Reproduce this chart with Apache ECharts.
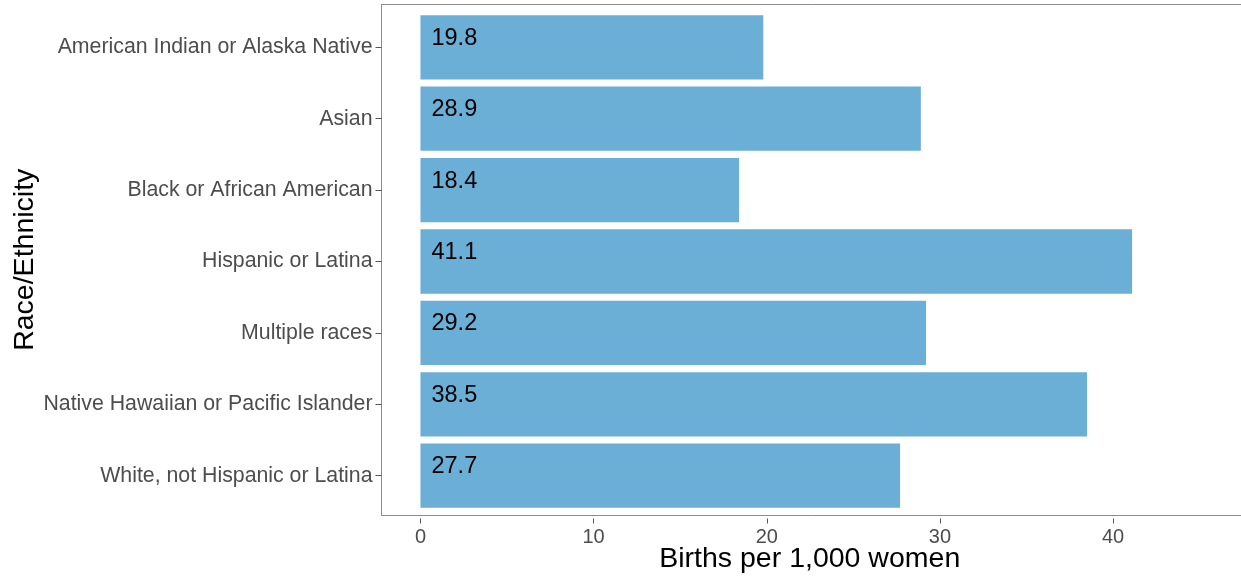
<!DOCTYPE html>
<html>
<head>
<meta charset="utf-8">
<script src="https://cdn.jsdelivr.net/npm/echarts@6/dist/echarts.min.js"></script>
<style>
html,body{margin:0;padding:0;background:#fff;}
#chart{width:1241px;height:579px;}
</style>
</head>
<body>
<div id="chart"></div>
<script>
var categories = [
  "American Indian or Alaska Native",
  "Asian",
  "Black or African American",
  "Hispanic or Latina",
  "Multiple races",
  "Native Hawaiian or Pacific Islander",
  "White, not Hispanic or Latina"
];
var births = [19.8, 28.9, 18.4, 41.1, 29.2, 38.5, 27.7];
var xTicks = [0, 10, 20, 30, 40];
var xTitle = "Births per 1,000 women";
var yTitle = "Race/Ethnicity";

var chart = echarts.init(document.getElementById('chart'), null, {renderer: 'canvas'});
var font = 'Liberation Sans, Arial, sans-serif';
var frameLine = {show: true, onZero: false, lineStyle: {color: '#8c8c8c', width: 1}};
chart.setOption({
  animation: false,
  backgroundColor: '#ffffff',
  grid: [
    {left: 381.5, right: 0, top: 11.6, height: 499.8, containLabel: false},
    {left: 381.5, right: 0, top: 4.5, bottom: 60.5, show: false}
  ],
  xAxis: [
    {
      gridIndex: 0, type: 'value', min: -2.25, max: 47.39,
      offset: 7.1,
      axisLine: {show: false, onZero: false},
      axisTick: {show: true, length: 5, customValues: xTicks, lineStyle: {color: '#555'}},
      splitLine: {show: false},
      axisLabel: {fontFamily: font, fontSize: 20, color: '#4d4d4d', margin: 8.5, customValues: xTicks}
    },
    {
      gridIndex: 1, type: 'value', min: 0, max: 1, position: 'bottom',
      axisLine: frameLine, axisTick: {show: false}, axisLabel: {show: false}, splitLine: {show: false},
      name: xTitle, nameLocation: 'middle', nameGap: 30,
      nameTextStyle: {fontFamily: font, fontSize: 28.5, color: '#000', padding: [0, 3, 0, 0]}
    },
    {
      gridIndex: 1, type: 'value', min: 0, max: 1, position: 'top',
      axisLine: frameLine, axisTick: {show: false}, axisLabel: {show: false}, splitLine: {show: false}
    }
  ],
  yAxis: [
    {
      gridIndex: 0, type: 'category', data: categories, inverse: true,
      axisLine: {show: false, onZero: false},
      axisTick: {show: true, length: 6, alignWithLabel: true, lineStyle: {color: '#555'}},
      axisLabel: {fontFamily: font, fontSize: 21.3, color: '#4d4d4d', margin: 9}
    },
    {
      gridIndex: 1, type: 'value', min: 0, max: 1, position: 'left',
      axisLine: frameLine, axisTick: {show: false}, axisLabel: {show: false}, splitLine: {show: false},
      name: yTitle, nameLocation: 'middle', nameGap: 342,
      nameTextStyle: {fontFamily: font, fontSize: 28.5, color: '#000'}
    }
  ],
  series: [{
    type: 'bar',
    xAxisIndex: 0, yAxisIndex: 0,
    data: births,
    barWidth: '90%',
    itemStyle: {color: '#6baed6'},
    label: {
      show: true, position: 'insideLeft', distance: 11, offset: [0, -9],
      fontFamily: font, fontSize: 23.5, color: '#000',
      formatter: function (p) { return p.value.toFixed(1); }
    }
  }]
});
</script>
</body>
</html>
